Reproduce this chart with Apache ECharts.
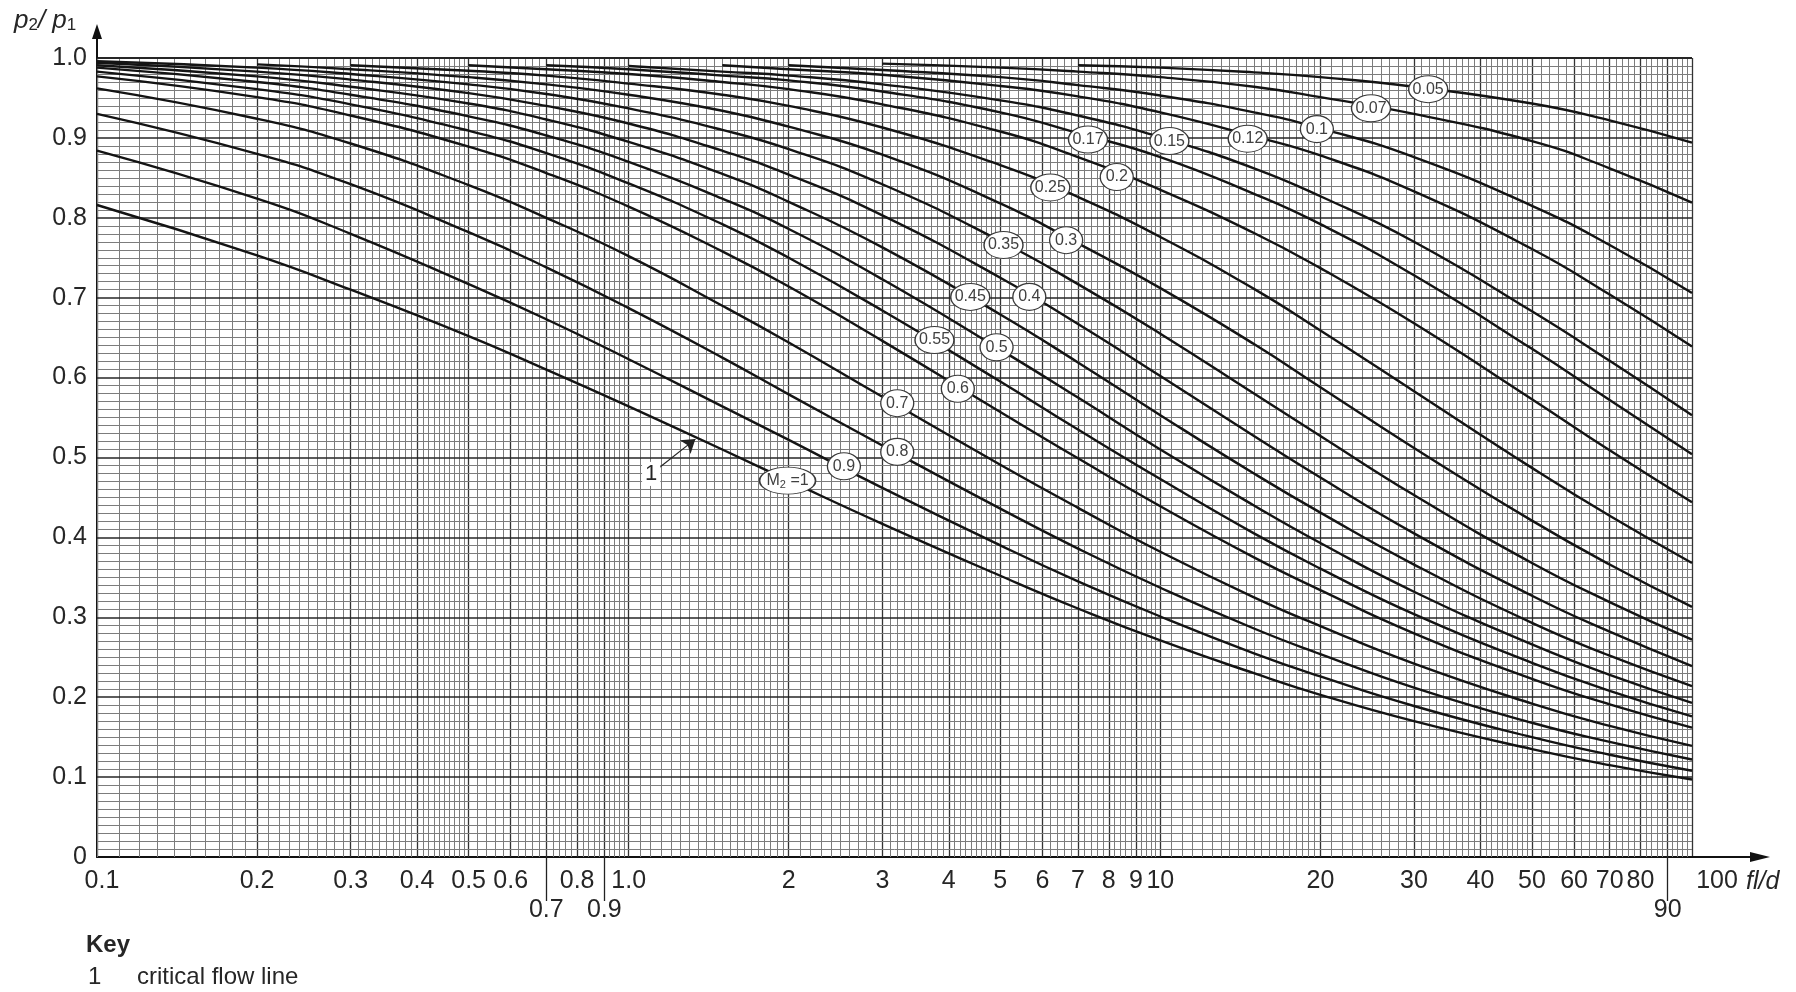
<!DOCTYPE html>
<html>
<head>
<meta charset="utf-8">
<script src="https://cdn.jsdelivr.net/npm/echarts@6/dist/echarts.min.js"></script>
<style>
  html, body { margin: 0; padding: 0; background: #fff; }
  #chart { width: 1796px; height: 992px; }
</style>
</head>
<body>
<div id="chart"></div>
<script>
var fld = [0.1, 0.2, 0.3, 0.5, 0.7, 1, 1.5, 2, 3, 5, 7, 10, 15, 20, 30, 50, 70, 100];

// p2/p1 for each outlet Mach number M2 (null = curve not drawn there yet)
var m100 = [0.816, 0.753, 0.710, 0.652, 0.610, 0.564, 0.510, 0.471, 0.417, 0.352, 0.311, 0.271, 0.230, 0.203, 0.170, 0.135, 0.115, 0.097];
var m090 = [0.884, 0.824, 0.780, 0.717, 0.673, 0.623, 0.564, 0.522, 0.462, 0.390, 0.345, 0.301, 0.255, 0.226, 0.189, 0.150, 0.128, 0.108];
var m080 = [0.930, 0.880, 0.842, 0.782, 0.738, 0.687, 0.625, 0.579, 0.515, 0.436, 0.386, 0.337, 0.286, 0.254, 0.212, 0.168, 0.144, 0.122];
var m070 = [0.962, 0.924, 0.893, 0.841, 0.800, 0.752, 0.690, 0.644, 0.576, 0.491, 0.437, 0.382, 0.325, 0.289, 0.242, 0.192, 0.164, 0.139];
var m060 = [0.977, 0.951, 0.928, 0.889, 0.856, 0.814, 0.758, 0.714, 0.646, 0.557, 0.499, 0.439, 0.375, 0.334, 0.280, 0.223, 0.191, 0.162];
var m055 = [0.983, 0.961, 0.942, 0.909, 0.881, 0.843, 0.792, 0.750, 0.684, 0.595, 0.535, 0.473, 0.405, 0.361, 0.304, 0.243, 0.208, 0.176];
var m050 = [0.988, 0.970, 0.954, 0.927, 0.903, 0.870, 0.824, 0.786, 0.723, 0.635, 0.575, 0.510, 0.440, 0.393, 0.332, 0.266, 0.228, 0.193];
var m045 = [0.991, 0.977, 0.964, 0.943, 0.923, 0.895, 0.855, 0.820, 0.763, 0.679, 0.619, 0.553, 0.480, 0.431, 0.366, 0.293, 0.252, 0.214];
var m040 = [0.994, 0.983, 0.973, 0.956, 0.940, 0.918, 0.884, 0.854, 0.803, 0.725, 0.667, 0.602, 0.527, 0.475, 0.405, 0.327, 0.282, 0.239];
var m035 = [0.996, 0.988, 0.980, 0.967, 0.955, 0.937, 0.910, 0.886, 0.842, 0.771, 0.717, 0.655, 0.580, 0.527, 0.453, 0.368, 0.319, 0.272];
var m030 = [null, 0.992, 0.986, 0.976, 0.967, 0.954, 0.934, 0.914, 0.879, 0.818, 0.768, 0.712, 0.642, 0.588, 0.512, 0.421, 0.366, 0.313];
var m025 = [null, null, 0.991, 0.984, 0.978, 0.968, 0.954, 0.940, 0.913, 0.866, 0.826, 0.776, 0.711, 0.659, 0.583, 0.487, 0.427, 0.368];
var m020 = [null, null, null, 0.991, 0.986, 0.980, 0.970, 0.961, 0.942, 0.908, 0.876, 0.835, 0.781, 0.737, 0.668, 0.573, 0.509, 0.444];
var m017 = [null, null, null, null, 0.991, 0.986, 0.978, 0.972, 0.958, 0.932, 0.906, 0.876, 0.830, 0.792, 0.728, 0.636, 0.572, 0.504];
var m015 = [null, null, null, null, null, 0.990, 0.983, 0.978, 0.967, 0.947, 0.928, 0.901, 0.862, 0.827, 0.770, 0.683, 0.621, 0.553];
var m012 = [null, null, null, null, null, null, 0.991, 0.986, 0.979, 0.965, 0.952, 0.932, 0.902, 0.878, 0.833, 0.761, 0.704, 0.639];
var m010 = [null, null, null, null, null, null, null, 0.991, 0.985, 0.976, 0.966, 0.953, 0.932, 0.912, 0.876, 0.815, 0.766, 0.706];
var m007 = [null, null, null, null, null, null, null, null, 0.993, 0.988, 0.983, 0.976, 0.964, 0.951, 0.930, 0.896, 0.862, 0.819];
var m005 = [null, null, null, null, null, null, null, null, null, null, 0.991, 0.988, 0.982, 0.976, 0.964, 0.943, 0.922, 0.894];

var curveNames = ['1', '0.9', '0.8', '0.7', '0.6', '0.55', '0.5', '0.45', '0.4', '0.35',
  '0.3', '0.25', '0.2', '0.17', '0.15', '0.12', '0.1', '0.07', '0.05'];
var curveValues = [m100, m090, m080, m070, m060, m055, m050, m045, m040, m035,
  m030, m025, m020, m017, m015, m012, m010, m007, m005];

// bubble labels sitting on the curves
var labelText = ['M2 =1', '0.9', '0.8', '0.7', '0.6', '0.55', '0.5', '0.45', '0.4', '0.35',
  '0.3', '0.25', '0.2', '0.17', '0.15', '0.12', '0.1', '0.07', '0.05'];
var labelX = [1.99, 2.54, 3.2, 3.2, 4.16, 3.76, 4.92, 4.39, 5.67, 5.07,
  6.65, 6.21, 8.28, 7.31, 10.4, 14.6, 19.7, 24.9, 31.9];
var labelY = [0.471, 0.489, 0.507, 0.568, 0.586, 0.647, 0.638, 0.701, 0.701, 0.766,
  0.772, 0.838, 0.851, 0.898, 0.896, 0.899, 0.911, 0.937, 0.961];

// critical flow line callout (key item 1)
var calloutFrom = [1.11, 0.481];
var calloutTo = [1.335, 0.523];

// tick labels
var xLabels = [0.1, 0.2, 0.3, 0.4, 0.5, 0.6, 0.8, 1, 2, 3, 4, 5, 6, 7, 8, 9, 10, 20, 30, 40, 50, 60, 70, 80, 100];
var xLabelsLow = [0.7, 0.9, 90];

var FONT = "'Liberation Sans', Arial, sans-serif";
var INK = '#262626';

// log paper grid
function verticalGrid() {
  var out = [];
  [0.1, 1, 10].forEach(function (d) {
    var k;
    for (k = 100; k < 200; k += 5) out.push([d * k / 100, k % 100 === 0]);
    for (k = 200; k < 500; k += 10) out.push([d * k / 100, k % 100 === 0]);
    for (k = 500; k < 1000; k += 20) out.push([d * k / 100, k % 100 === 0]);
  });
  out.push([100, true]);
  return out;
}

var gridLines = [];
verticalGrid().forEach(function (g) {
  gridLines.push({
    xAxis: g[0],
    lineStyle: g[1] ? { color: '#333', width: 1.3, type: 'solid' } : { color: '#7c7c7c', width: 1, type: 'solid' }
  });
});
for (var i = 1; i <= 100; i++) {
  var major = i % 10 === 0;
  gridLines.push({
    yAxis: i / 100,
    lineStyle: major ? { color: '#262626', width: i === 100 ? 2 : 1.5, type: 'solid' } : { color: '#7c7c7c', width: 1, type: 'solid' }
  });
}

var series = [{
  type: 'line',
  data: [],
  silent: true,
  animation: false,
  markLine: {
    silent: true,
    animation: false,
    z: 1,
    symbol: 'none',
    label: { show: false },
    data: gridLines
  }
}];

curveValues.forEach(function (vals, i) {
  var pts = [];
  fld.forEach(function (x, j) {
    if (vals[j] !== null) pts.push([x, vals[j]]);
  });
  var txt = labelText[i];
  var w = i === 0 ? 56 : (txt.length >= 4 ? 39 : 33);
  var s = {
    type: 'line',
    name: curveNames[i],
    data: pts,
    smooth: 0.5,
    symbol: 'none',
    showSymbol: false,
    silent: true,
    animation: false,
    z: 10,
    lineStyle: { color: '#141414', width: 2.4 },
    markPoint: {
      z: 20,
      silent: true,
      animation: false,
      symbol: 'circle',
      symbolSize: [w, 27],
      itemStyle: { color: '#fff', borderColor: '#3a3a3a', borderWidth: 1.2 },
      label: {
        show: true,
        position: 'inside',
        color: '#404040',
        fontSize: 16,
        fontFamily: FONT,
        formatter: i === 0 ? '{a|M}{s|2}{a| =1}' : '{b}',
        rich: {
          a: { fontSize: 16, lineHeight: 20, color: '#404040', fontFamily: FONT },
          s: { fontSize: 11, lineHeight: 8, verticalAlign: 'bottom', color: '#404040', fontFamily: FONT }
        }
      },
      data: [{ name: txt, coord: [labelX[i], labelY[i]] }]
    }
  };
  if (i === 0) {
    s.markLine = {
      silent: true,
      animation: false,
      z: 15,
      symbol: ['none', 'arrow'],
      symbolSize: 13,
      lineStyle: { color: '#222', width: 1.2, type: 'solid' },
      label: {
        show: true,
        position: 'start',
        formatter: '1',
        fontSize: 22,
        fontFamily: FONT,
        color: INK,
        backgroundColor: '#fff',
        padding: [1, 3],
        distance: 2
      },
      data: [[{ coord: calloutFrom }, { coord: calloutTo }]]
    };
  }
  series.push(s);
});

function fmtX(v) {
  if (Math.abs(v - 0.1) < 1e-9) return '{l|0.1}';
  if (Math.abs(v - 100) < 1e-9) return '{r|100}';
  if (Math.abs(v - 1) < 1e-9) return '1.0';
  if (v < 1) return v.toFixed(1);
  return String(Math.round(v));
}

var chart = echarts.init(document.getElementById('chart'));
var option = {
  backgroundColor: '#fff',
  animation: false,
  grid: { left: 97, right: 104, top: 58, bottom: 135 },
  xAxis: [{
    type: 'log',
    logBase: 10,
    min: 0.1,
    max: 100,
    position: 'bottom',
    axisLine: { show: true, lineStyle: { color: '#111', width: 2 } },
    axisTick: { show: false },
    splitLine: { show: false },
    minorSplitLine: { show: false },
    axisLabel: {
      customValues: xLabels,
      margin: 12,
      fontSize: 25,
      fontFamily: FONT,
      color: INK,
      formatter: fmtX,
      rich: {
        l: { padding: [0, 0, 0, 10], fontSize: 25, fontFamily: FONT, color: INK },
        r: { padding: [0, 0, 0, 50], fontSize: 25, fontFamily: FONT, color: INK }
      }
    }
  }, {
    type: 'log',
    logBase: 10,
    min: 0.1,
    max: 100,
    position: 'bottom',
    axisLine: { show: false },
    axisTick: { show: true, customValues: xLabelsLow, length: 44, lineStyle: { color: '#222', width: 1.3 } },
    splitLine: { show: false },
    axisLabel: {
      customValues: xLabelsLow,
      margin: 41,
      fontSize: 25,
      fontFamily: FONT,
      color: INK,
      formatter: function (v) { return v < 1 ? v.toFixed(1) : String(Math.round(v)); }
    }
  }],
  yAxis: {
    type: 'value',
    min: 0,
    max: 1,
    interval: 0.1,
    axisLine: { show: true, lineStyle: { color: '#111', width: 2 } },
    axisTick: { show: false },
    splitLine: { show: false },
    axisLabel: {
      margin: 10,
      fontSize: 25,
      fontFamily: FONT,
      color: INK,
      formatter: function (v) { return v === 0 ? '0' : v.toFixed(1); }
    }
  },
  series: series
};
chart.setOption(option);

// axis arrows, axis names and the key, placed from the chart's own scales
var o = chart.convertToPixel({ xAxisIndex: 0, yAxisIndex: 0 }, [0.1, 0]);
var e = chart.convertToPixel({ xAxisIndex: 0, yAxisIndex: 0 }, [100, 1]);
chart.setOption({
  graphic: [
    { type: 'line', silent: true, z: 30, shape: { x1: o[0], y1: e[1], x2: o[0], y2: e[1] - 22 }, style: { stroke: '#111', lineWidth: 2 } },
    { type: 'polygon', silent: true, z: 30, shape: { points: [[o[0] - 5, e[1] - 19], [o[0] + 5, e[1] - 19], [o[0], e[1] - 34]] }, style: { fill: '#111' } },
    { type: 'line', silent: true, z: 30, shape: { x1: e[0], y1: o[1], x2: e[0] + 62, y2: o[1] }, style: { stroke: '#111', lineWidth: 2 } },
    { type: 'polygon', silent: true, z: 30, shape: { points: [[e[0] + 58, o[1] - 5], [e[0] + 58, o[1] + 5], [e[0] + 78, o[1]]] }, style: { fill: '#111' } },
    {
      type: 'text', silent: true, z: 30, x: e[0] + 54, y: o[1] + 25,
      style: { text: 'fl/d', fontSize: 25, fontStyle: 'italic', fontFamily: FONT, fill: INK, verticalAlign: 'middle', align: 'left' }
    },
    {
      type: 'text', silent: true, z: 30, x: 14, y: 21,
      style: {
        text: '{p|p}{s|2}{p|/ p}{s|1}',
        verticalAlign: 'middle',
        fill: INK,
        rich: {
          p: { fontSize: 26, fontStyle: 'italic', fontFamily: FONT, fill: INK, lineHeight: 26 },
          s: { fontSize: 17, fontFamily: FONT, fill: INK, lineHeight: 14, verticalAlign: 'bottom' }
        }
      }
    },
    {
      type: 'text', silent: true, z: 30, x: 86, y: 945,
      style: { text: 'Key', fontSize: 24, fontWeight: 'bold', fontFamily: FONT, fill: INK, verticalAlign: 'middle' }
    },
    {
      type: 'text', silent: true, z: 30, x: 88, y: 977,
      style: { text: '1', fontSize: 24, fontFamily: FONT, fill: INK, verticalAlign: 'middle' }
    },
    {
      type: 'text', silent: true, z: 30, x: 137, y: 977,
      style: { text: 'critical flow line', fontSize: 24, fontFamily: FONT, fill: INK, verticalAlign: 'middle' }
    }
  ]
});
</script>
</body>
</html>
